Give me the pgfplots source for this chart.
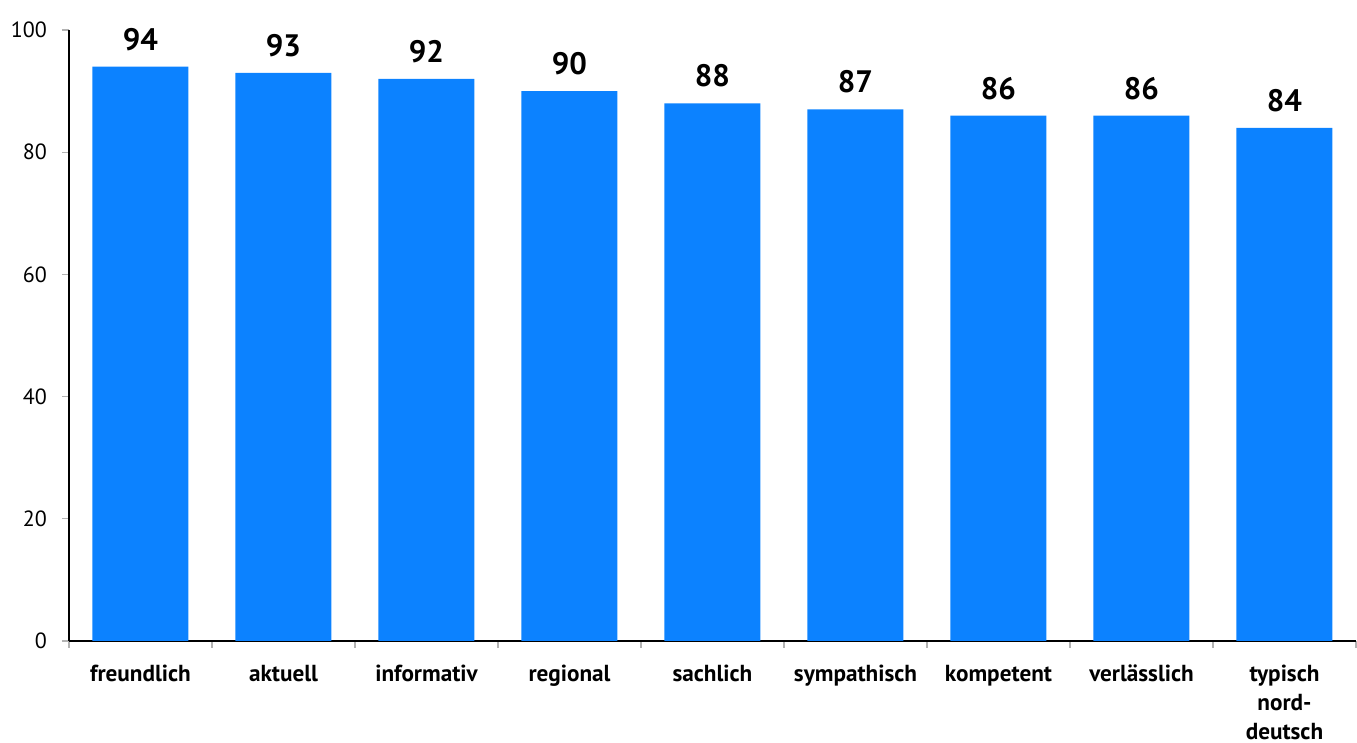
\documentclass[border=0pt]{standalone}
\usepackage{fontspec}
\setmainfont{PT Sans}
\usepackage{pgfplots}
\pgfplotsset{compat=1.18}
\definecolor{barblue}{RGB}{12,130,255}
% uniform line height for the category labels
\newcommand{\lh}{\vphantom{Äl}}
\begin{document}
\begin{tikzpicture}
\begin{axis}[
  name=ax,
  scale only axis,
  width=643.5pt, height=305.5pt,
  xmin=-0.5, xmax=8.5,
  ymin=0, ymax=100,
  axis x line=bottom, axis y line=left,
  axis line style={-, black, line width=0.7pt},
  tick align=outside,
  ytick={0,20,...,100},
  xtick={0,...,8},
  xticklabels={\lh freundlich,\lh aktuell,\lh informativ,\lh regional,\lh sachlich,\lh sympathisch,\lh kompetent,\lh verlässlich,{\lh typisch\\nord-\\deutsch}},
  major x tick style={draw=none},
  minor xtick={-0.5,0.5,...,8.5},
  minor tick length=3.5pt,
  minor x tick style={gray!60, line width=0.6pt},
  major tick length=3.5pt,
  y tick style={gray!60, line width=0.6pt},
  /pgf/number format/assume math mode=true,
  yticklabel style={font=\fontsize{11}{13}\selectfont, xshift=-4pt},
  xticklabel style={font=\fontsize{11.6}{14.5}\selectfont\bfseries, align=center, anchor=north, inner ysep=0pt, yshift=-6.5pt},
  nodes near coords,
  nodes near coords style={font=\fontsize{15.5}{17}\selectfont\bfseries, yshift=4.5pt},
  clip=false,
]
\addplot[ybar, bar width=48pt, fill=barblue, draw=none] coordinates {
  (0,94) (1,93) (2,92) (3,90) (4,88) (5,87) (6,86) (7,86) (8,84)
};
\end{axis}
\pgfresetboundingbox
\path (-34.5pt,-51pt) rectangle (644pt,320.5pt);
\end{tikzpicture}
\end{document}
